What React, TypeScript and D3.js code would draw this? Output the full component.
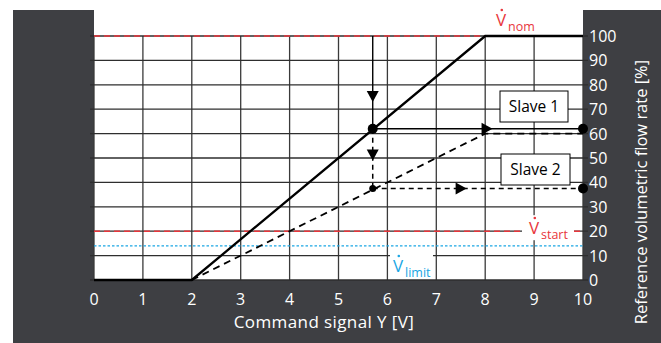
import React from "react";
import * as d3 from "d3";

// Command signal (V) and reference flow rate (%) values
const xTicks = [0, 1, 2, 3, 4, 5, 6, 7, 8, 9, 10];
const yTicks = [0, 10, 20, 30, 40, 50, 60, 70, 80, 90, 100];

// Master characteristic: 0 below 2 V, linear to 100 % at 8 V
const masterX = [0, 2, 8, 10];
const masterY = [0, 0, 100, 100];

// Slave characteristic (dashed): 0 at 2 V rising to 60 % at 8 V
const slaveX = [2, 8, 10];
const slaveY = [0, 60, 60];

const operatingSignal = 5.7;
const slave1Value = 62;
const slave2Value = 37.5;

const vNom = 100;
const vStart = 20;
const vLimit = 14;

const W = 661;
const H = 343;
const FONT = "'Open Sans', 'Noto Sans', sans-serif";
const DARK = "#3e3f43";
const RED = "#e8363c";
const BLUE = "#1aa6e4";

// Flow-rate symbol: V with a dot above and a subscript
function FlowSymbol({ x0, y0, sub, color }: { x0: number; y0: number; sub: string; color: string }) {
  return (
    <g fill={color}>
      <text x={x0} y={y0} fontSize={17}>V</text>
      <circle cx={x0 + 5.8} cy={y0 - 16} r={1.3} />
      <text x={x0 + 12} y={y0 + 5} fontSize={12.5}>{sub}</text>
    </g>
  );
}

export default function App() {
  const x = d3.scaleLinear().domain([0, 10]).range([94, 583]);
  const y = d3.scaleLinear().domain([0, 100]).range([280, 36]);

  const line = d3
    .line<[number, number]>()
    .x((d) => x(d[0]))
    .y((d) => y(d[1]));

  const master = line(masterX.map((v, i) => [v, masterY[i]]) as [number, number][]) || "";
  const slave = line(slaveX.map((v, i) => [v, slaveY[i]]) as [number, number][]) || "";

  const xo = x(operatingSignal);

  // downward triangle with tip at (cx, cy)
  const downArrow = (cx: number, cy: number) =>
    `M${cx - 6},${cy - 11} L${cx + 6},${cy - 11} L${cx},${cy} Z`;
  // rightward triangle with tip at (cx, cy)
  const rightArrow = (cx: number, cy: number) =>
    `M${cx - 11},${cy - 6} L${cx - 11},${cy + 6} L${cx},${cy} Z`;

  return (
    <svg
      width={W}
      height={H}
      style={{ position: "absolute", left: 0, top: 0, display: "block" }}
      fontFamily={FONT}
    >
      <rect x={0} y={0} width={W} height={H} fill="#fff" />
      <rect x={13} y={10} width={W - 13} height={H - 10} fill={DARK} />
      <rect x={x(0)} y={0} width={x(10) - x(0)} height={y(0)} fill="#fff" />

      {/* grid */}
      {xTicks.map((t) => (
        <line key={"vx" + t} x1={x(t)} x2={x(t)} y1={y(100)} y2={y(0)} stroke="#3a3a3a" strokeWidth={1.3} />
      ))}
      {yTicks.map((t) => (
        <line key={"hy" + t} x1={x(0) - 4} x2={x(10) + 5} y1={y(t)} y2={y(t)} stroke="#2e2e2e" strokeWidth={1.3} />
      ))}

      {/* reference levels */}
      <line x1={x(0)} x2={x(8)} y1={y(vNom)} y2={y(vNom)} stroke={RED} strokeWidth={1.6} strokeDasharray="6,4" />
      <line x1={x(0)} x2={x(10)} y1={y(vStart)} y2={y(vStart)} stroke={RED} strokeWidth={1.6} strokeDasharray="6,4" />
      <line x1={x(0)} x2={x(10)} y1={y(vLimit)} y2={y(vLimit)} stroke={BLUE} strokeWidth={1.4} strokeDasharray="2.5,2" />

      {/* label backgrounds */}
      <rect x={522} y={y(vStart) - 16} width={52} height={25} fill="#fff" />
      <rect x={390} y={y(10) - 3} width={43} height={20} fill="#fff" />

      {/* characteristics */}
      <path d={master} fill="none" stroke="#000" strokeWidth={2.3} />
      <path d={slave} fill="none" stroke="#000" strokeWidth={1.8} strokeDasharray="7,5" />

      {/* operating point construction */}
      <line x1={xo} x2={xo} y1={y(100)} y2={y(slave1Value)} stroke="#000" strokeWidth={1.4} />
      <line x1={xo} x2={xo} y1={y(slave1Value)} y2={y(slave2Value)} stroke="#000" strokeWidth={1.5} strokeDasharray="5,4" />
      <line x1={xo} x2={x(10)} y1={y(slave1Value)} y2={y(slave1Value)} stroke="#000" strokeWidth={1.5} />
      <line x1={xo} x2={x(10)} y1={y(slave2Value)} y2={y(slave2Value)} stroke="#000" strokeWidth={1.5} strokeDasharray="5,4" />

      <path d={downArrow(xo, y(73))} fill="#000" />
      <path d={downArrow(xo, y(49))} fill="#000" />
      <path d={rightArrow(x(8.15), y(slave1Value))} fill="#000" />
      <path d={rightArrow(x(7.62), y(slave2Value))} fill="#000" />

      <circle cx={xo} cy={y(slave1Value)} r={5} fill="#000" />
      <circle cx={xo} cy={y(slave2Value)} r={3.5} fill="#000" />
      <circle cx={x(10)} cy={y(slave1Value)} r={5} fill="#000" />
      <circle cx={x(10)} cy={y(slave2Value)} r={5} fill="#000" />

      {/* slave boxes */}
      <rect x={500} y={91} width={68} height={31} fill="#fff" stroke="#000" strokeWidth={1} />
      <text x={534} y={112} textAnchor="middle" fontSize={15.5} fill="#000">Slave 1</text>
      <rect x={501} y={154} width={69} height={31} fill="#fff" stroke="#000" strokeWidth={1} />
      <text x={535.5} y={175} textAnchor="middle" fontSize={15.5} fill="#000">Slave 2</text>

      {/* level labels */}
      <FlowSymbol x0={496} y0={26} sub="nom" color={RED} />
      <FlowSymbol x0={529} y0={234} sub="start" color={RED} />
      <FlowSymbol x0={393} y0={272} sub="limit" color={BLUE} />

      {/* axis tick labels */}
      {xTicks.map((t) => (
        <text key={"xl" + t} x={x(t)} y={305} textAnchor="middle" fontSize={16} fill="#fff">
          {t}
        </text>
      ))}
      {yTicks.map((t) => (
        <text key={"yl" + t} x={589} y={y(t) + 6} fontSize={16} fill="#fff">
          {t}
        </text>
      ))}

      <text x={324} y={328} textAnchor="middle" fontSize={17} letterSpacing={0.4} fill="#fff">
        Command signal Y [V]
      </text>
      <text
        transform={`translate(647,${192}) rotate(-90)`}
        textAnchor="middle"
        fontSize={16.5}
        fill="#fff"
      >
        Reference volumetric flow rate [%]
      </text>
    </svg>
  );
}
